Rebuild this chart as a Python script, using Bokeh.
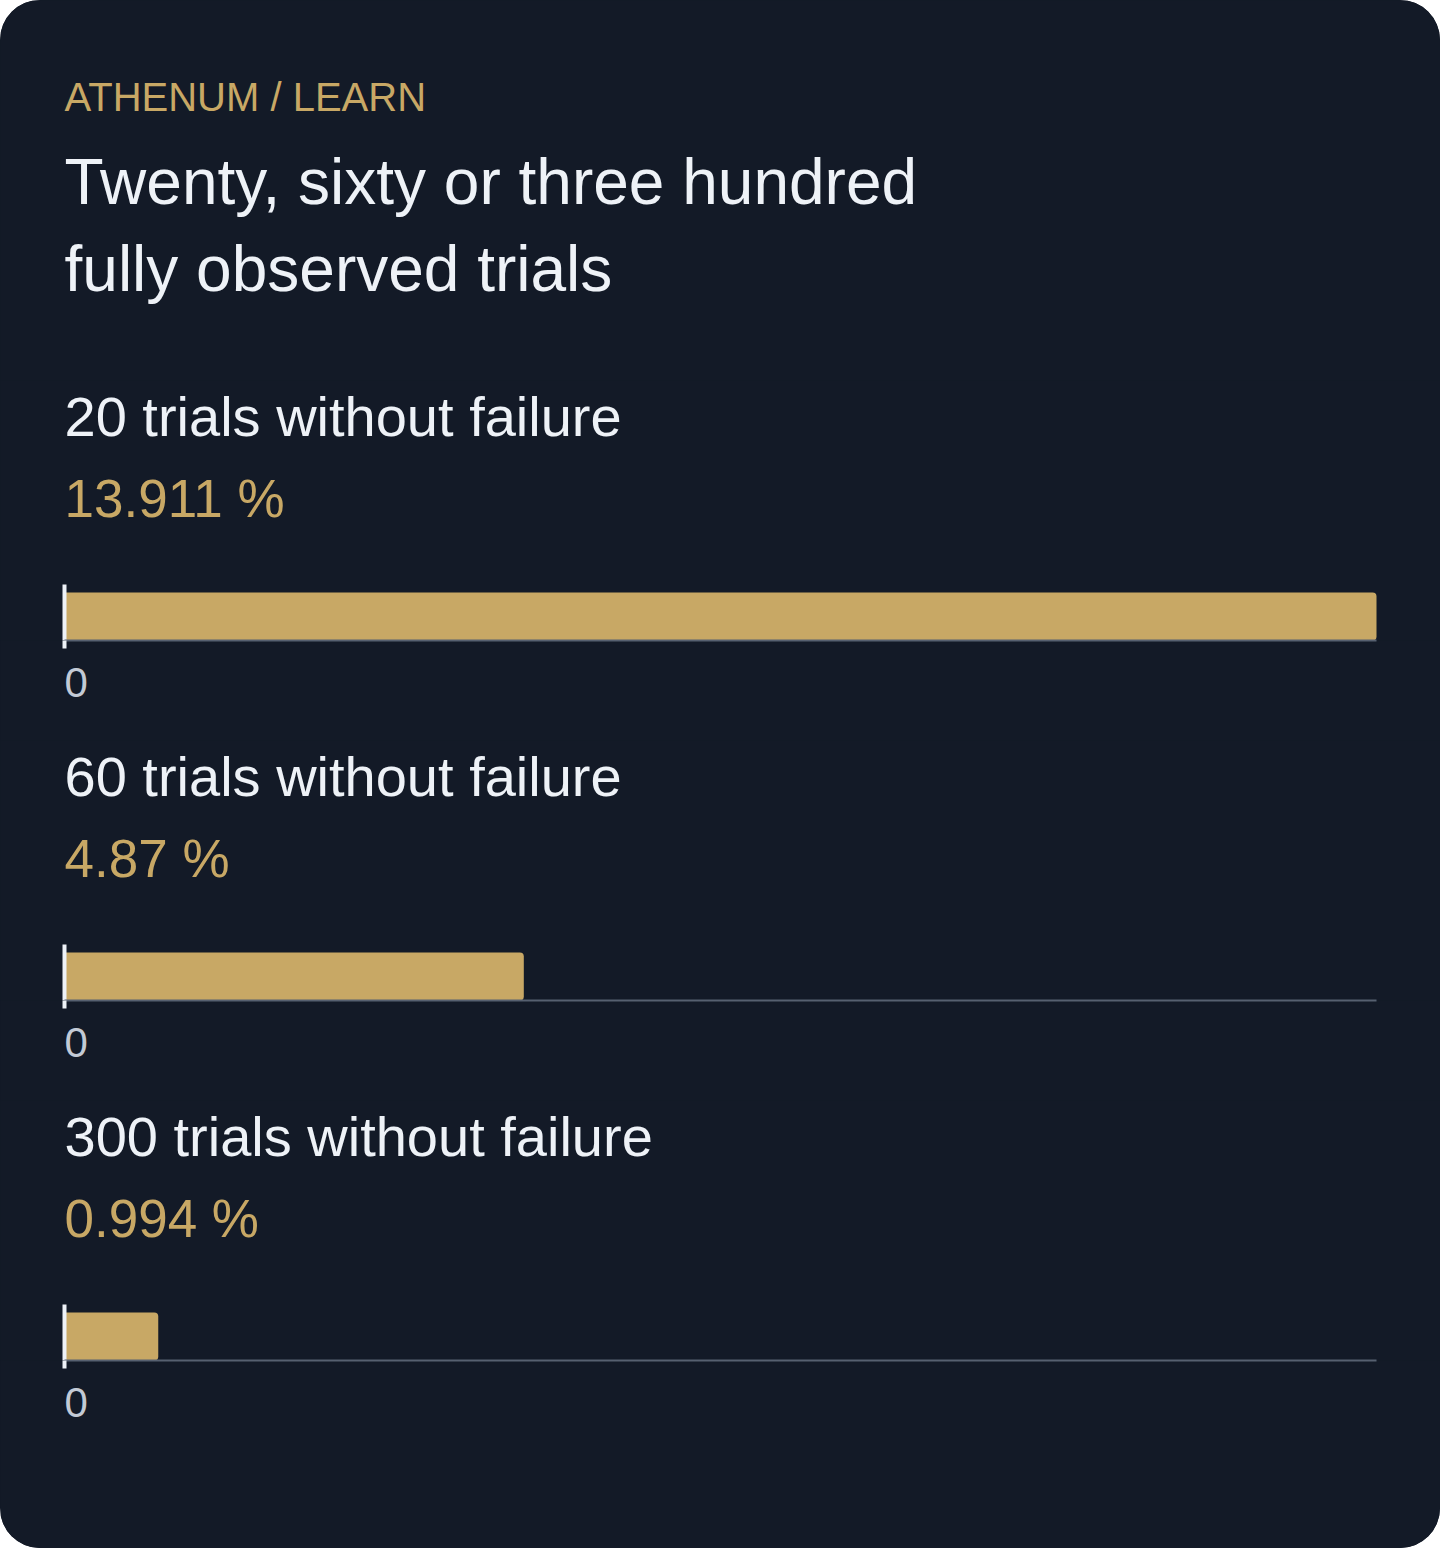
from bokeh.plotting import figure
from bokeh.layouts import column
from bokeh.models import Range1d, FixedTicker
from bokeh.core.properties import value
from bokeh.embed import file_html
from bokeh.resources import INLINE

# ---- data ----
kicker = "ATHENUM / LEARN"
title_lines = ["Twenty, sixty or three hundred", "fully observed trials"]
trials = [20, 60, 300]
probabilities = [13.911, 4.87, 0.994]
value_labels = ["13.911 %", "4.87 %", "0.994 %"]
x_ticks = [0]

# ---- style ----
BG = "#131a27"
GOLD = "#c8a865"
WHITE = "#eef2f7"
TICK = "#c3cad5"
AXIS = "#566070"
FONT = "Liberation Sans"

W = 1440
PAD = 64
FRAME_W = W - 2 * PAD
xmax = max(probabilities)
u = xmax / FRAME_W

HEADER_H = 380
PANEL_H = 360
LAST_EXTRA = 88
FRAME_H = 260
BAR_H = 48
LINE_EXTRA = 8
SHIFT = 0.40  # baseline correction (fraction of font size)


def ty(baseline_from_top, size, frame_h):
    # y in data units (y up, 0 at frame bottom) for a text baseline
    return frame_h - (baseline_from_top - SHIFT * size)


def base_fig(height, x_range, y_range, bottom=0):
    p = figure(width=W, height=height, x_range=x_range, y_range=y_range,
               output_backend="svg", toolbar_location=None,
               y_axis_location=None,
               min_border_left=0, min_border_right=0, min_border_top=0,
               min_border_bottom=bottom)
    p.background_fill_color = BG
    p.border_fill_color = BG
    p.outline_line_color = None
    p.grid.visible = False
    return p


# header
h = base_fig(HEADER_H, Range1d(0, W), Range1d(0, HEADER_H))
h.xaxis.visible = False
h.text(x=[PAD], y=[ty(112, 40, HEADER_H)], text=[kicker], text_font=value(FONT),
       text_font_size="40px", text_color=GOLD, text_baseline="alphabetic")
h.text(x=[PAD, PAD], y=[ty(207, 64, HEADER_H), ty(294, 64, HEADER_H)],
       text=title_lines, text_font=value(FONT),
       text_font_size="64px", text_color=WHITE, text_baseline="alphabetic")

panels = [h]
for i, (n, v, lbl) in enumerate(zip(trials, probabilities, value_labels)):
    height = PANEL_H if i < len(trials) - 1 else PANEL_H + LAST_EXTRA
    p = base_fig(height, Range1d(-PAD * u, xmax + PAD * u), Range1d(0, FRAME_H),
                 bottom=height - FRAME_H)
    p.text(x=[0], y=[ty(58, 56, FRAME_H)], text=[f"{n} trials without failure"],
           text_font=value(FONT), text_font_size="56px", text_color=WHITE,
           text_baseline="alphabetic")
    p.text(x=[0], y=[ty(139, 53, FRAME_H)], text=[lbl],
           text_font=value(FONT), text_font_size="53px", text_color=GOLD,
           text_baseline="alphabetic")
    p.hbar(y=[BAR_H / 2], height=[BAR_H], left=[0], right=[v],
           fill_color=GOLD, line_color=None, border_radius=(0, 4, 4, 0))
    p.segment(x0=[0], y0=[0], x1=[0], y1=[BAR_H + LINE_EXTRA],
              line_color=WHITE, line_width=4)
    ax = p.xaxis[0]
    ax.ticker = FixedTicker(ticks=x_ticks)
    ax.bounds = (0, xmax)
    ax.axis_line_color = AXIS
    ax.axis_line_width = 2
    ax.major_tick_in = 0
    ax.major_tick_out = LINE_EXTRA
    ax.major_tick_line_color = WHITE
    ax.major_tick_line_width = 4
    ax.minor_tick_line_color = None
    ax.major_label_text_font = FONT
    ax.major_label_text_font_size = "42px"
    ax.major_label_text_color = TICK
    ax.major_label_orientation = -0.0001
    ax.major_label_standoff = 34
    panels.append(p)

layout = column(*panels, spacing=0,
                styles={"background-color": BG, "border-radius": "40px",
                        "overflow": "hidden"})

open("out.html", "w").write(file_html(layout, INLINE, title="Twenty, sixty or three hundred"))
